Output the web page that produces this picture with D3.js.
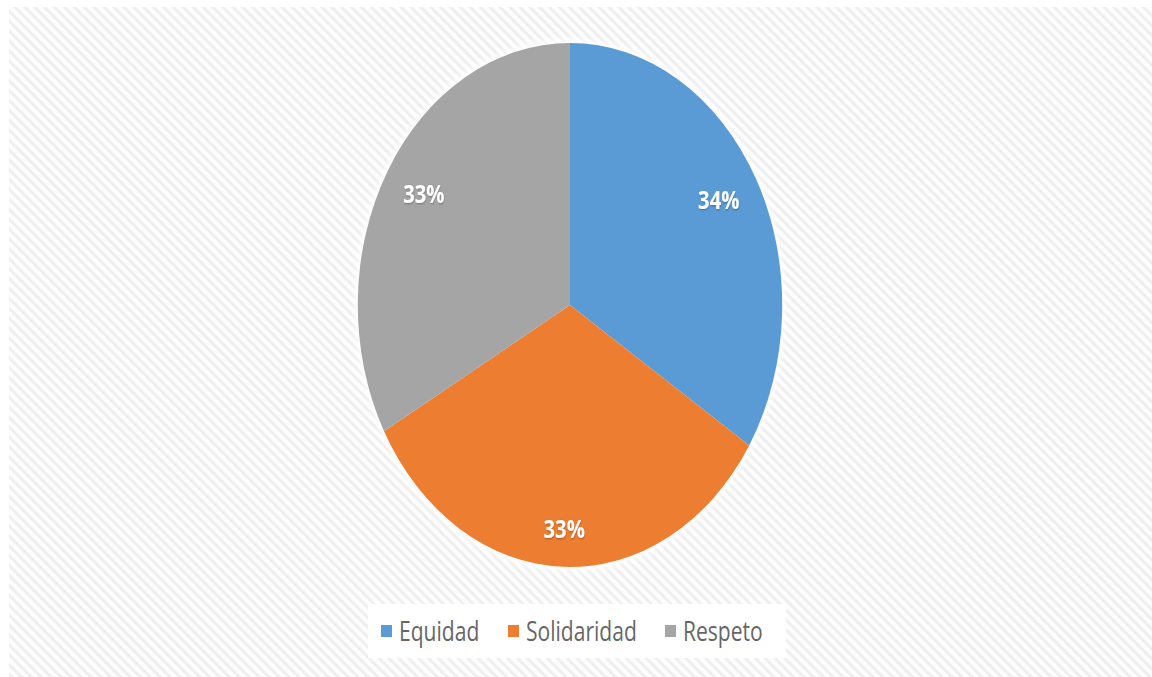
<!DOCTYPE html>
<html>
<head>
<meta charset="utf-8">
<script src="https://cdn.jsdelivr.net/npm/d3@7"></script>
<style>
	html, body { margin: 0; padding: 0; background: #fff; }
	svg { display: block; }
</style>
</head>
<body>
<div id="chart"></div>
<script>
// datos del grafico
var categories = ['Equidad', 'Solidaridad', 'Respeto'];
var values = [34, 33, 33];
var labels = ['34%', '33%', '33%'];
var colors = ['#5b9bd5', '#ed7d31', '#a5a5a5'];

var W = 1152, H = 677;
var cx = 570, cy = 305;
var r = 262;
var sx = 0.81; // la imagen esta comprimida en horizontal
var labelPos = [0.8, 0.87, 0.8];

var svg = d3.select('#chart')
	.append('svg')
	.attr('width', W)
	.attr('height', H);

var defs = svg.append('defs');

var pat = defs.append('pattern')
	.attr('id', 'hatch')
	.attr('patternUnits', 'userSpaceOnUse')
	.attr('width', 7)
	.attr('height', 7)
	.attr('patternTransform', 'rotate(45)');
pat.append('rect')
	.attr('width', 7).attr('height', 7)
	.attr('fill', '#fdfdfd');
pat.append('rect')
	.attr('x', 0).attr('y', 0)
	.attr('width', 7).attr('height', 3)
	.attr('fill', '#efefef');

var blur = defs.append('filter')
	.attr('id', 'glow')
	.attr('x', '-10%').attr('y', '-10%')
	.attr('width', '120%').attr('height', '120%');
blur.append('feGaussianBlur').attr('stdDeviation', 3);

var tshadow = defs.append('filter')
	.attr('id', 'tshadow');
tshadow.append('feDropShadow')
	.attr('dx', 0.5).attr('dy', 1)
	.attr('stdDeviation', 0.8)
	.attr('flood-color', '#000')
	.attr('flood-opacity', 0.3);

// fondo
svg.append('rect')
	.attr('x', 9)
	.attr('y', 7)
	.attr('width', W - 9)
	.attr('height', H - 7)
	.attr('fill', 'url(#hatch)');

var g = svg.append('g')
	.attr('transform', 'translate(' + cx + ',' + cy + ') scale(' + sx + ',1)');

// halo blanco alrededor de la torta
g.append('circle')
	.attr('r', r + 3)
	.attr('fill', '#ffffff')
	.attr('filter', 'url(#glow)');

var pie = d3.pie().sort(null).value(function (d) { return d; });
var arcs = pie(values);

var arc = d3.arc().innerRadius(0).outerRadius(r);

g.selectAll('path.slice')
	.data(arcs)
	.enter()
	.append('path')
	.attr('class', 'slice')
	.attr('d', arc)
	.attr('fill', function (d, i) { return colors[i]; })
	.attr('stroke', 'none');

g.selectAll('text.lbl')
	.data(arcs)
	.enter()
	.append('text')
	.attr('class', 'lbl')
	.attr('transform', function (d, i) {
		var lr = r * labelPos[i];
		var c = d3.arc().innerRadius(lr).outerRadius(lr).centroid(d);
		return 'translate(' + c[0] + ',' + (c[1] - 4) + ')';
	})
	.attr('text-anchor', 'middle')
	.attr('dy', '0.36em')
	.attr('font-family', 'Open Sans, sans-serif')
	.attr('font-weight', 'bold')
	.attr('font-size', 25)
	.attr('fill', '#ffffff')
	.attr('filter', 'url(#tshadow)')
	.text(function (d, i) { return labels[i]; });

// leyenda
svg.append('rect')
	.attr('x', 368)
	.attr('y', 604)
	.attr('width', 418)
	.attr('height', 54)
	.attr('fill', '#ffffff');

var legX = [381, 508, 665];
var leg = svg.selectAll('g.leg')
	.data(categories)
	.enter()
	.append('g')
	.attr('class', 'leg')
	.attr('transform', function (d, i) { return 'translate(' + legX[i] + ',631)'; });

leg.append('rect')
	.attr('x', 0)
	.attr('y', -6)
	.attr('width', 11)
	.attr('height', 12)
	.attr('fill', function (d, i) { return colors[i]; });

leg.append('text')
	.attr('transform', 'translate(18,0) scale(0.78,1)')
	.attr('dy', '0.36em')
	.attr('font-family', 'Open Sans, sans-serif')
	.attr('font-size', 27)
	.attr('fill', '#666666')
	.text(function (d) { return d; });
</script>
</body>
</html>
